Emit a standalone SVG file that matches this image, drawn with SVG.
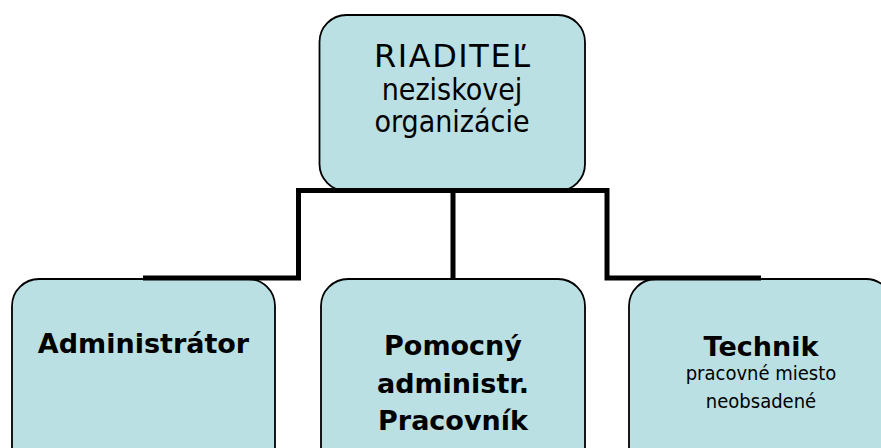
<svg xmlns="http://www.w3.org/2000/svg" width="881" height="448" viewBox="0 0 881 448">
<style>
.box{fill:#bbe0e3;stroke:#000;stroke-width:1.8}
.conn{fill:none;stroke:#000;stroke-width:5;stroke-linejoin:miter;stroke-linecap:butt}
.reg{font-family:"DejaVu Sans Condensed","DejaVu Sans",sans-serif;font-stretch:condensed;fill:#000;text-anchor:middle}
.wide{font-family:"DejaVu Sans",sans-serif;fill:#000;text-anchor:middle}
.bold{font-family:"DejaVu Sans","Verdana",sans-serif;font-weight:bold;fill:#000;text-anchor:middle;font-size:27px}
</style>
<rect width="881" height="448" fill="#fff"/>
<g id="n-riaditel">
<rect class="box" x="319.5" y="15" width="265.5" height="176" rx="27" ry="27"/>
<text class="wide" x="452" y="67" font-size="32" textLength="156" lengthAdjust="spacing">RIADITEĽ</text>
<text class="reg" x="452" y="100" font-size="30">neziskovej</text>
<text class="reg" x="452" y="132" font-size="30">organizácie</text>
</g>
<g id="n-administrator">
<rect class="box" x="12" y="279" width="263" height="200" rx="27" ry="27"/>
<text class="bold" x="143.5" y="353">Administrátor</text>
</g>
<g id="n-pomocny">
<rect class="box" x="321" y="279" width="264" height="200" rx="27" ry="27"/>
<text class="bold" x="453" y="355">Pomocný</text>
<text class="bold" x="453" y="393">administr.</text>
<text class="bold" x="453" y="430">Pracovník</text>
</g>
<g id="n-technik">
<rect class="box" x="629" y="279" width="264" height="200" rx="27" ry="27"/>
<text class="bold" x="761" y="356">Technik</text>
<text class="reg" x="761" y="380" font-size="20">pracovné miesto</text>
<text class="reg" x="761" y="408" font-size="20">neobsadené</text>
</g>
<g id="connectors">
<polyline class="conn" points="143,278 298.5,278 298.5,190.5 607,190.5 607,278 761,278"/>
<line class="conn" x1="453" y1="190.5" x2="453" y2="278"/>
</g>
</svg>
